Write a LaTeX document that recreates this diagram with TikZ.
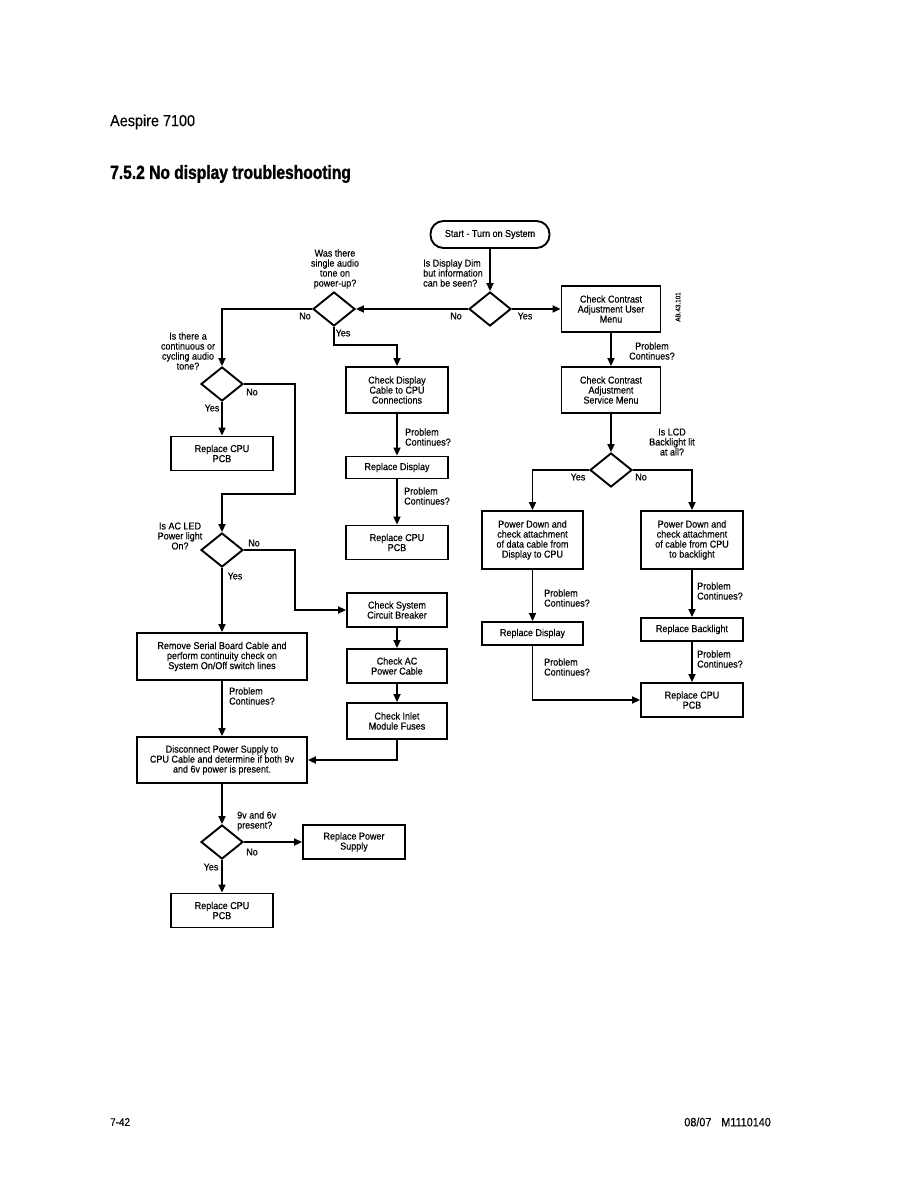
\documentclass[tikz,border=0pt]{standalone}
\usepackage{fontspec}
\setmainfont{Liberation Sans}[FakeStretch=0.9, FakeBold=0.3]
\newfontfamily\headfont{Liberation Sans}[FakeStretch=0.82, BoldFeatures={FakeBold=1.4}]
\usetikzlibrary{shapes.geometric, arrows.meta, positioning}

\begin{document}
\begin{tikzpicture}[
    x=1pt, y=-1pt,
    every node/.style={font=\fontsize{10}{10}\selectfont, inner sep=0pt},
    box/.style={rectangle, draw, line width=1.9pt, align=center,
                minimum width=102pt, minimum height=34pt},
    slimbox/.style={box, minimum height=22pt},
    midbox/.style={box, minimum height=46pt},
    tallbox/.style={box, minimum height=58pt},
    widebox/.style={box, minimum width=170pt, minimum height=47pt},
    decision/.style={diamond, draw, line width=1.9pt,
                     minimum width=42pt, minimum height=34pt},
    term/.style={rectangle, rounded corners=13pt, draw, line width=1.9pt,
                 minimum width=119pt, minimum height=27pt},
    lbl/.style={align=center},
    arr/.style={-{Triangle[length=8pt,width=7pt]}, line width=1.9pt},
]

\fill[white] (0,0) rectangle (918,1188);
\useasboundingbox (0,0) rectangle (918,1188);

% page header and footer
\node[anchor=west, font=\fontsize{16}{16}\selectfont] (model) at (110,122) {Aespire 7100};
\node[anchor=west, font=\headfont\bfseries\fontsize{19}{19}\selectfont] (title) at (110,174) {7.5.2 No display troubleshooting};
\node[anchor=west, font=\fontsize{11}{11}\selectfont] (page) at (110,1122) {7-42};
\node[anchor=east, font=\fontsize{12}{12}\selectfont] (docno) at (771,1122) {08/07\hspace{10pt}M1110140};

% top row
\node[term] (start) at (490,234.5) {Start - Turn on System};
\node[decision] (dim) at (490,309) {};
\node[decision] (tone) at (334,309) {};
\node[midbox, minimum width=99pt] (user) at (611,309) {Check Contrast\\Adjustment User\\Menu};
\node[rotate=90, font=\fontsize{7}{7}\selectfont] (code) at (678,307) {AB.43.101};

% left column
\node[decision] (cycle) at (222,384) {};
\node[box] (cpuA) at (222,453.5) {Replace CPU\\PCB};
\node[decision] (acled) at (222,550) {};
\node[widebox] (serial) at (222,656.5) {Remove Serial Board Cable and\\perform continuity check on\\System On/Off switch lines};
\node[widebox, minimum height=46pt] (supply) at (222,760) {Disconnect Power Supply to\\CPU Cable and determine if both 9v\\and 6v power is present.};
\node[decision] (volt) at (222,842) {};
\node[box] (psu) at (354,842) {Replace Power\\Supply};
\node[box] (cpuC) at (222,910.5) {Replace CPU\\PCB};

% middle column
\node[midbox] (cable) at (397,390) {Check Display\\Cable to CPU\\Connections};
\node[slimbox] (disp) at (397,467.5) {Replace Display};
\node[box] (cpuB) at (397,542.5) {Replace CPU\\PCB};
\node[box, minimum width=100pt] (breaker) at (397,610) {Check System\\Circuit Breaker};
\node[box, minimum width=100pt] (accable) at (397,666) {Check AC\\Power Cable};
\node[box, minimum width=100pt, minimum height=36pt] (fuses) at (397,721) {Check Inlet\\Module Fuses};

% right column
\node[midbox, minimum width=99pt] (service) at (611,390) {Check Contrast\\Adjustment\\Service Menu};
\node[decision] (lcd) at (611,470) {};
\node[tallbox, minimum width=101pt] (data) at (532.5,540) {Power Down and\\check attachment\\of data cable from\\Display to CPU};
\node[tallbox] (blcable) at (692,540) {Power Down and\\check attachment\\of cable from CPU\\to backlight};
\node[slimbox, minimum width=101pt, minimum height=23pt] (dispB) at (532.5,633.5) {Replace Display};
\node[slimbox, minimum height=23pt] (backlight) at (692,629.5) {Replace Backlight};
\node[box] (cpuD) at (692,700) {Replace CPU\\PCB};

% questions and answers
\node[lbl, align=left, anchor=west] (qdim) at (423,273) {Is Display Dim\\but information\\can be seen?};
\node[lbl] (qtone) at (335,269) {Was there\\single audio\\tone on\\power-up?};
\node[lbl] (qcycle) at (188,351) {Is there a\\continuous or\\cycling audio\\tone?};
\node[lbl] (qacled) at (180,536) {Is AC LED\\Power light\\On?};
\node[lbl, align=left, anchor=west] (qvolt) at (237,821) {9v and 6v\\present?};
\node[lbl] (qlcd) at (672,442) {Is LCD\\Backlight lit\\at all?};

\node (dimno) at (456,316) {No};
\node (dimyes) at (525,316) {Yes};
\node (toneno) at (305,316) {No};
\node (toneyes) at (343,333) {Yes};
\node (cycleno) at (252,392) {No};
\node (cycleyes) at (212,408) {Yes};
\node (acledno) at (254,543) {No};
\node (acledyes) at (235,576) {Yes};
\node (voltno) at (252,852) {No};
\node (voltyes) at (211,867) {Yes};
\node (lcdyes) at (578,477) {Yes};
\node (lcdno) at (641,477) {No};

\node[lbl] (pc1) at (652,351) {Problem\\Continues?};
\node[lbl, align=left, anchor=west] (pc2) at (405,437) {Problem\\Continues?};
\node[lbl, align=left, anchor=west] (pc3) at (404,496) {Problem\\Continues?};
\node[lbl, align=left, anchor=west] (pc4) at (229,696) {Problem\\Continues?};
\node[lbl, align=left, anchor=west] (pc5) at (544,598) {Problem\\Continues?};
\node[lbl, align=left, anchor=west] (pc6) at (544,667) {Problem\\Continues?};
\node[lbl, align=left, anchor=west] (pc7) at (697,591) {Problem\\Continues?};
\node[lbl, align=left, anchor=west] (pc8) at (697,659) {Problem\\Continues?};

% bends
\coordinate (jA) at (295,494);
\coordinate (jB) at (334,345);
\coordinate (jC) at (295,550);

% connectors
\draw[arr] (start) -- (dim);
\draw[arr] (dim) -- (user);
\draw[arr] (dim) -- (tone);
\draw[arr] (tone.west) -| (cycle.north);
\draw[arr] (tone.south) -- (jB) -| (cable.north);
\draw[arr] (cycle) -- (cpuA);
\draw[arr] (cycle.east) -| (jA) -| (acled.north);
\draw[arr] (cable) -- (disp);
\draw[arr] (disp) -- (cpuB);
\draw[arr] (acled.east) -- (jC) |- (breaker.west);
\draw[arr] (acled) -- (serial);
\draw[arr] (breaker) -- (accable);
\draw[arr] (accable) -- (fuses);
\draw[arr] (fuses.south) |- (supply.east);
\draw[arr] (serial) -- (supply);
\draw[arr] (supply) -- (volt);
\draw[arr] (volt) -- (psu);
\draw[arr] (volt) -- (cpuC);
\draw[arr] (user) -- (service);
\draw[arr] (service) -- (lcd);
\draw[arr] (lcd.west) -| (data.north);
\draw[arr] (lcd.east) -| (blcable.north);
\draw[arr] (data) -- (dispB);
\draw[arr] (dispB.south) |- (cpuD.west);
\draw[arr] (blcable) -- (backlight);
\draw[arr] (backlight) -- (cpuD);

\end{tikzpicture}
\end{document}
